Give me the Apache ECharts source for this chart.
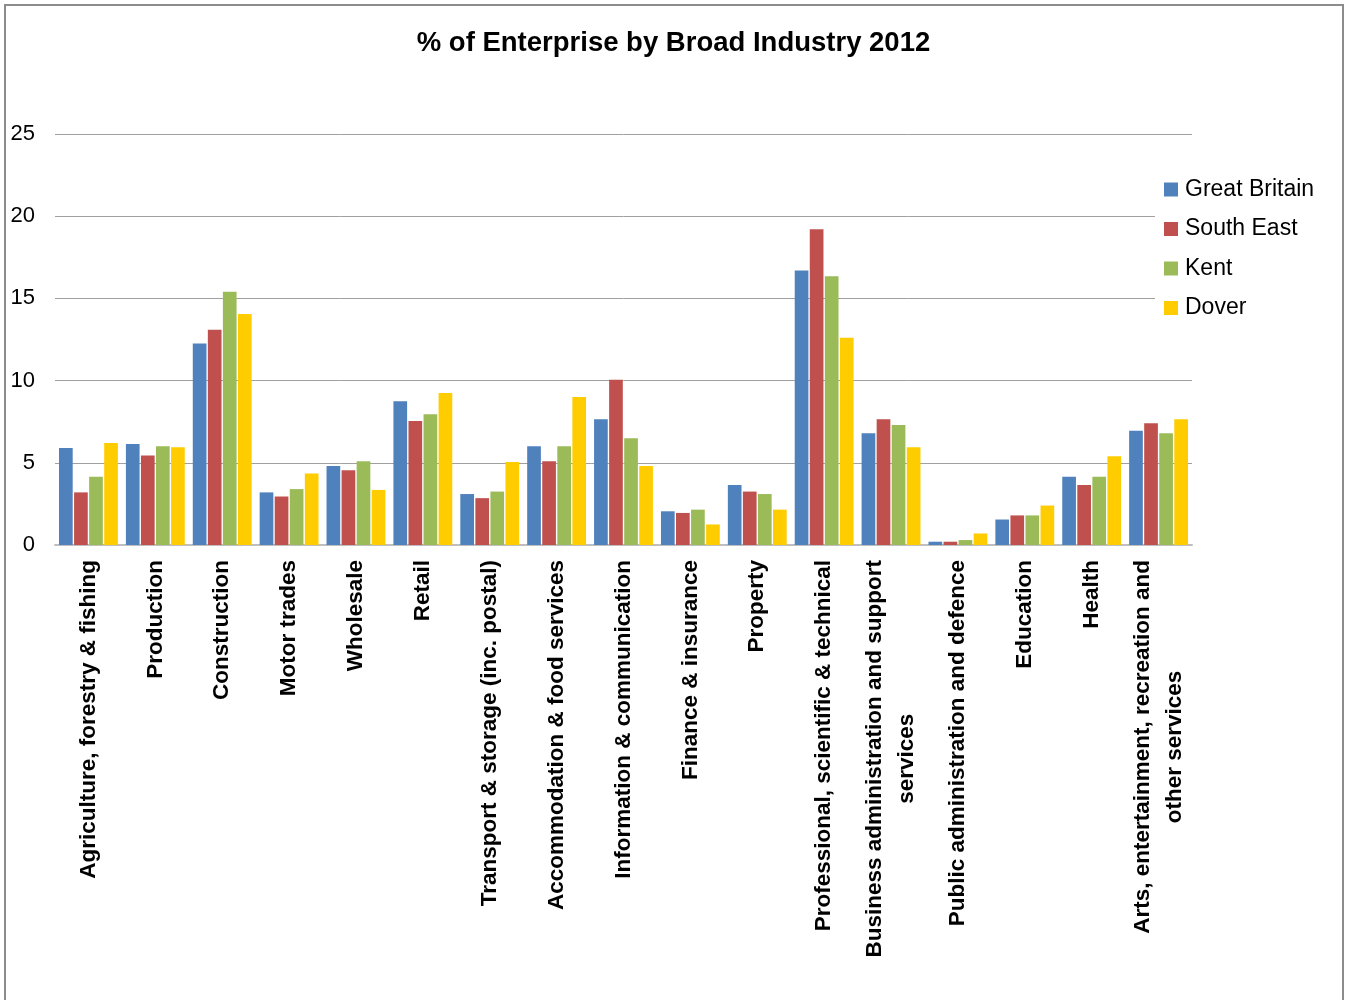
<!DOCTYPE html>
<html>
<head>
<meta charset="utf-8">
<script src="https://cdn.jsdelivr.net/npm/echarts@6/dist/echarts.min.js"></script>
<style>
html,body{margin:0;padding:0;background:#fff;}
#main{width:1347px;height:1000px;}
</style>
</head>
<body>
<div id="main"></div>
<script>
const categories = [
  "Agriculture, forestry & fishing",
  "Production",
  "Construction",
  "Motor trades",
  "Wholesale",
  "Retail",
  "Transport & storage (inc. postal)",
  "Accommodation & food services",
  "Information & communication",
  "Finance & insurance",
  "Property",
  "Professional, scientific & technical",
  "Business administration and support\nservices",
  "Public administration and defence",
  "Education",
  "Health",
  "Arts, entertainment, recreation and\nother services"
];
const greatBritain = [5.9, 6.15, 12.25, 3.2, 4.8, 8.75, 3.1, 6.0, 7.65, 2.05, 3.65, 16.7, 6.8, 0.2, 1.55, 4.15, 6.95];
const southEast    = [3.2, 5.45, 13.1, 2.95, 4.55, 7.55, 2.85, 5.1, 10.05, 1.95, 3.25, 19.2, 7.65, 0.2, 1.8, 3.65, 7.4];
const kent         = [4.15, 6.0, 15.4, 3.4, 5.1, 7.95, 3.25, 6.0, 6.5, 2.15, 3.1, 16.35, 7.3, 0.3, 1.8, 4.15, 6.8];
const dover        = [6.2, 5.95, 14.05, 4.35, 3.35, 9.25, 5.05, 9.0, 4.8, 1.25, 2.15, 12.6, 5.95, 0.7, 2.4, 5.4, 7.65];
const seriesNames = ["Great Britain", "South East", "Kent", "Dover"];
const yTicks = [0, 5, 10, 15, 20, 25];

const FONT = "Arial, 'Liberation Sans', Helvetica, sans-serif";
const colors = ["#4F81BD", "#C0504D", "#9BBB59", "#FFCC00"];
const seriesData = [greatBritain, southEast, kent, dover];

const chart = echarts.init(document.getElementById('main'), null, {renderer: 'canvas'});
chart.setOption({
  animation: false,
  backgroundColor: '#fff',
  color: colors,
  graphic: [{
    type: 'rect',
    shape: {x: 5, y: 5, width: 1338, height: 1000},
    style: {fill: 'none', stroke: '#8c8c8c', lineWidth: 2},
    silent: true,
    z: 100
  }],
  title: {
    text: '% of Enterprise by Broad Industry 2012',
    left: 'center',
    top: 24,
    textStyle: {fontFamily: FONT, fontSize: 27.5, fontWeight: 'bold', color: '#000'}
  },
  legend: {
    data: seriesNames,
    orient: 'vertical',
    left: 1155,
    top: 170,
    padding: [8, 8, 8, 9],
    itemWidth: 14,
    itemHeight: 14,
    itemGap: 16.5,
    icon: 'rect',
    backgroundColor: '#fff',
    z: 10,
    textStyle: {fontFamily: FONT, fontSize: 23, color: '#000', padding: [0, 0, 0, 2]}
  },
  grid: {left: 55, right: 155, top: 134, bottom: 455, containLabel: false},
  xAxis: {
    type: 'category',
    data: categories,
    axisLine: {show: true, lineStyle: {color: '#BFBFBF', width: 2}},
    axisTick: {show: false},
    axisLabel: {
      interval: 0,
      rotate: 90,
      margin: 15,
      color: '#000',
      fontFamily: FONT,
      fontSize: 22.5,
      fontWeight: 'bold',
      formatter: function (v) {
        return v.split('\n').map(function (l) { return '{c|' + l + '}'; }).join('\n');
      },
      rich: {
        c: {align: 'center', fontFamily: FONT, fontSize: 22.5, fontWeight: 'bold', color: '#000', lineHeight: 32}
      }
    }
  },
  yAxis: {
    type: 'value',
    min: yTicks[0],
    max: yTicks[yTicks.length - 1],
    interval: yTicks[1] - yTicks[0],
    axisLine: {show: false},
    axisTick: {show: false},
    splitLine: {lineStyle: {color: '#A0A0A0', width: 1}},
    axisLabel: {color: '#000', fontFamily: FONT, fontSize: 22, margin: 20, padding: [3, 0, 0, 0]}
  },
  series: seriesNames.map(function (name, i) {
    return {
      name: name,
      type: 'bar',
      data: seriesData[i],
      barGap: '10%',
      barCategoryGap: '12%',
      itemStyle: {color: colors[i]}
    };
  })
});
</script>
</body>
</html>
